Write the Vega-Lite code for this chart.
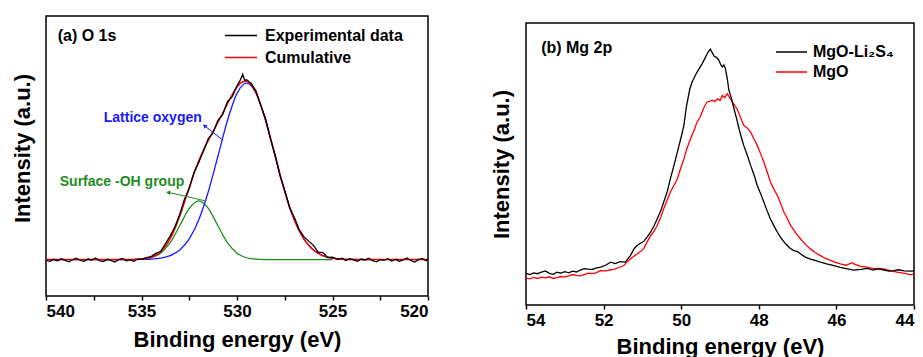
{
  "$schema": "https://vega.github.io/schema/vega-lite/v6.json",
  "background": "white",
  "padding": {"left": 10, "top": 15, "right": 0, "bottom": 0},
  "config": {
    "font": "Liberation Sans",
    "view": {"stroke": "black", "strokeWidth": 1.5},
    "axis": {"grid": false, "domain": false, "labelFont": "Liberation Sans", "labelFontWeight": "bold", "labelFontSize": 17, "labelColor": "black", "titleFont": "Liberation Sans", "titleFontWeight": "bold", "titleFontSize": 22, "titleColor": "black", "tickColor": "black", "tickWidth": 1.5, "tickSize": 4, "labelPadding": 3, "titlePadding": 9},
    "legend": {"labelFont": "Liberation Sans", "labelFontWeight": "bold", "labelFontSize": 16, "labelColor": "black", "symbolType": "stroke", "symbolSize": 1024, "symbolStrokeWidth": 1.5, "padding": 0, "title": null}
  },
  "resolve": {"scale": {"color": "independent", "stroke": "independent"}, "legend": {"color": "independent", "stroke": "independent"}},
  "datasets": {
    "a": [
      {"E": 540, "I": 0.13, "s": "Cumulative"}, {"E": 536, "I": 0.13, "s": "Cumulative"}, {"E": 535.5, "I": 0.1303, "s": "Cumulative"}, {"E": 535, "I": 0.1319, "s": "Cumulative"}, {"E": 534.75, "I": 0.1341, "s": "Cumulative"}, {"E": 534.5, "I": 0.1382, "s": "Cumulative"}, {"E": 534.25, "I": 0.1456, "s": "Cumulative"}, {"E": 534, "I": 0.158, "s": "Cumulative"}, {"E": 533.75, "I": 0.1771, "s": "Cumulative"}, {"E": 533.5, "I": 0.2044, "s": "Cumulative"}, {"E": 533.25, "I": 0.2406, "s": "Cumulative"}, {"E": 533, "I": 0.2849, "s": "Cumulative"}, {"E": 532.75, "I": 0.3349, "s": "Cumulative"}, {"E": 532.5, "I": 0.3869, "s": "Cumulative"}, {"E": 532.25, "I": 0.4372, "s": "Cumulative"}, {"E": 532, "I": 0.4825, "s": "Cumulative"}, {"E": 531.75, "I": 0.5219, "s": "Cumulative"}, {"E": 531.5, "I": 0.5562, "s": "Cumulative"}, {"E": 531.25, "I": 0.5879, "s": "Cumulative"}, {"E": 531, "I": 0.6197, "s": "Cumulative"}, {"E": 530.75, "I": 0.6529, "s": "Cumulative"}, {"E": 530.5, "I": 0.6871, "s": "Cumulative"}, {"E": 530.25, "I": 0.7196, "s": "Cumulative"}, {"E": 530, "I": 0.7466, "s": "Cumulative"}, {"E": 529.75, "I": 0.7634, "s": "Cumulative"}, {"E": 529.5, "I": 0.7666, "s": "Cumulative"}, {"E": 529.25, "I": 0.7539, "s": "Cumulative"}, {"E": 529, "I": 0.7251, "s": "Cumulative"}, {"E": 528.75, "I": 0.6817, "s": "Cumulative"}, {"E": 528.5, "I": 0.6269, "s": "Cumulative"}, {"E": 528.25, "I": 0.5645, "s": "Cumulative"}, {"E": 528, "I": 0.499, "s": "Cumulative"}, {"E": 527.75, "I": 0.4341, "s": "Cumulative"}, {"E": 527.5, "I": 0.3734, "s": "Cumulative"}, {"E": 527.25, "I": 0.319, "s": "Cumulative"}, {"E": 527, "I": 0.2725, "s": "Cumulative"}, {"E": 526.75, "I": 0.2343, "s": "Cumulative"}, {"E": 526.5, "I": 0.2041, "s": "Cumulative"}, {"E": 526.25, "I": 0.1811, "s": "Cumulative"}, {"E": 526, "I": 0.1642, "s": "Cumulative"}, {"E": 525.75, "I": 0.1522, "s": "Cumulative"}, {"E": 525.5, "I": 0.144, "s": "Cumulative"}, {"E": 525.25, "I": 0.1386, "s": "Cumulative"}, {"E": 525, "I": 0.1351, "s": "Cumulative"}, {"E": 524.75, "I": 0.1329, "s": "Cumulative"}, {"E": 524.5, "I": 0.1316, "s": "Cumulative"}, {"E": 524, "I": 0.1305, "s": "Cumulative"}, {"E": 523.5, "I": 0.1301, "s": "Cumulative"}, {"E": 520, "I": 0.13, "s": "Cumulative"},

      {"E": 540, "I": 0.13, "s": "Lattice oxygen"}, {"E": 536, "I": 0.13, "s": "Lattice oxygen"}, {"E": 535.5, "I": 0.1301, "s": "Lattice oxygen"}, {"E": 535, "I": 0.1305, "s": "Lattice oxygen"}, {"E": 534.5, "I": 0.1316, "s": "Lattice oxygen"}, {"E": 534, "I": 0.1351, "s": "Lattice oxygen"}, {"E": 533.5, "I": 0.144, "s": "Lattice oxygen"}, {"E": 533, "I": 0.1642, "s": "Lattice oxygen"}, {"E": 532.5, "I": 0.2041, "s": "Lattice oxygen"}, {"E": 532, "I": 0.2725, "s": "Lattice oxygen"}, {"E": 531.5, "I": 0.3734, "s": "Lattice oxygen"}, {"E": 531, "I": 0.499, "s": "Lattice oxygen"}, {"E": 530.5, "I": 0.6267, "s": "Lattice oxygen"}, {"E": 530, "I": 0.7237, "s": "Lattice oxygen"}, {"E": 529.5, "I": 0.76, "s": "Lattice oxygen"}, {"E": 529, "I": 0.7237, "s": "Lattice oxygen"}, {"E": 528.5, "I": 0.6267, "s": "Lattice oxygen"}, {"E": 528, "I": 0.499, "s": "Lattice oxygen"}, {"E": 527.5, "I": 0.3734, "s": "Lattice oxygen"}, {"E": 527, "I": 0.2725, "s": "Lattice oxygen"}, {"E": 526.5, "I": 0.2041, "s": "Lattice oxygen"}, {"E": 526, "I": 0.1642, "s": "Lattice oxygen"}, {"E": 525.5, "I": 0.144, "s": "Lattice oxygen"}, {"E": 525, "I": 0.1351, "s": "Lattice oxygen"}, {"E": 524.5, "I": 0.1316, "s": "Lattice oxygen"}, {"E": 524, "I": 0.1305, "s": "Lattice oxygen"}, {"E": 523.5, "I": 0.1301, "s": "Lattice oxygen"}, {"E": 523, "I": 0.13, "s": "Lattice oxygen"},

      {"E": 535.5, "I": 0.1302, "s": "Surface -OH group"}, {"E": 535, "I": 0.1314, "s": "Surface -OH group"}, {"E": 534.5, "I": 0.1366, "s": "Surface -OH group"}, {"E": 534, "I": 0.1529, "s": "Surface -OH group"}, {"E": 533.5, "I": 0.1904, "s": "Surface -OH group"}, {"E": 533, "I": 0.2507, "s": "Surface -OH group"}, {"E": 532.5, "I": 0.3128, "s": "Surface -OH group"}, {"E": 532, "I": 0.34, "s": "Surface -OH group"}, {"E": 531.5, "I": 0.3128, "s": "Surface -OH group"}, {"E": 531, "I": 0.2507, "s": "Surface -OH group"}, {"E": 530.5, "I": 0.1904, "s": "Surface -OH group"}, {"E": 530, "I": 0.1529, "s": "Surface -OH group"}, {"E": 529.5, "I": 0.1366, "s": "Surface -OH group"}, {"E": 529, "I": 0.1314, "s": "Surface -OH group"}, {"E": 528.5, "I": 0.1302, "s": "Surface -OH group"}, {"E": 528, "I": 0.13, "s": "Surface -OH group"}, {"E": 525, "I": 0.13, "s": "Surface -OH group"},

      {"E": 540.0, "I": 0.128, "s": "Experimental data"}, {"E": 539.8, "I": 0.124, "s": "Experimental data"}, {"E": 539.6, "I": 0.131, "s": "Experimental data"}, {"E": 539.4, "I": 0.126, "s": "Experimental data"}, {"E": 539.2, "I": 0.133, "s": "Experimental data"}, {"E": 539.0, "I": 0.127, "s": "Experimental data"}, {"E": 538.8, "I": 0.122, "s": "Experimental data"}, {"E": 538.6, "I": 0.130, "s": "Experimental data"}, {"E": 538.4, "I": 0.135, "s": "Experimental data"}, {"E": 538.2, "I": 0.127, "s": "Experimental data"}, {"E": 538.0, "I": 0.124, "s": "Experimental data"}, {"E": 537.8, "I": 0.132, "s": "Experimental data"}, {"E": 537.6, "I": 0.128, "s": "Experimental data"}, {"E": 537.4, "I": 0.136, "s": "Experimental data"}, {"E": 537.2, "I": 0.126, "s": "Experimental data"}, {"E": 537.0, "I": 0.123, "s": "Experimental data"}, {"E": 536.8, "I": 0.131, "s": "Experimental data"}, {"E": 536.6, "I": 0.127, "s": "Experimental data"}, {"E": 536.4, "I": 0.121, "s": "Experimental data"}, {"E": 536.2, "I": 0.130, "s": "Experimental data"}, {"E": 536.0, "I": 0.134, "s": "Experimental data"}, {"E": 535.8, "I": 0.126, "s": "Experimental data"}, {"E": 535.6, "I": 0.129, "s": "Experimental data"}, {"E": 535.4, "I": 0.124, "s": "Experimental data"}, {"E": 535.2, "I": 0.132, "s": "Experimental data"}, {"E": 535.0, "I": 0.131, "s": "Experimental data"}, {"E": 534.75, "I": 0.137, "s": "Experimental data"}, {"E": 534.5, "I": 0.141, "s": "Experimental data"}, {"E": 534.25, "I": 0.152, "s": "Experimental data"}, {"E": 534.0, "I": 0.159, "s": "Experimental data"}, {"E": 533.75, "I": 0.186, "s": "Experimental data"}, {"E": 533.5, "I": 0.214, "s": "Experimental data"}, {"E": 533.25, "I": 0.247, "s": "Experimental data"}, {"E": 533.0, "I": 0.291, "s": "Experimental data"}, {"E": 532.75, "I": 0.346, "s": "Experimental data"}, {"E": 532.5, "I": 0.384, "s": "Experimental data"}, {"E": 532.25, "I": 0.442, "s": "Experimental data"}, {"E": 532.0, "I": 0.478, "s": "Experimental data"}, {"E": 531.75, "I": 0.519, "s": "Experimental data"}, {"E": 531.5, "I": 0.562, "s": "Experimental data"}, {"E": 531.25, "I": 0.583, "s": "Experimental data"}, {"E": 531.0, "I": 0.627, "s": "Experimental data"}, {"E": 530.75, "I": 0.648, "s": "Experimental data"}, {"E": 530.5, "I": 0.694, "s": "Experimental data"}, {"E": 530.25, "I": 0.712, "s": "Experimental data"}, {"E": 530.0, "I": 0.751, "s": "Experimental data"}, {"E": 529.85, "I": 0.768, "s": "Experimental data"}, {"E": 529.7, "I": 0.792, "s": "Experimental data"}, {"E": 529.6, "I": 0.770, "s": "Experimental data"}, {"E": 529.5, "I": 0.772, "s": "Experimental data"}, {"E": 529.35, "I": 0.764, "s": "Experimental data"}, {"E": 529.25, "I": 0.759, "s": "Experimental data"}, {"E": 529.0, "I": 0.731, "s": "Experimental data"}, {"E": 528.75, "I": 0.679, "s": "Experimental data"}, {"E": 528.5, "I": 0.632, "s": "Experimental data"}, {"E": 528.25, "I": 0.561, "s": "Experimental data"}, {"E": 528.0, "I": 0.503, "s": "Experimental data"}, {"E": 527.75, "I": 0.430, "s": "Experimental data"}, {"E": 527.5, "I": 0.378, "s": "Experimental data"}, {"E": 527.25, "I": 0.316, "s": "Experimental data"}, {"E": 527.0, "I": 0.281, "s": "Experimental data"}, {"E": 526.75, "I": 0.238, "s": "Experimental data"}, {"E": 526.5, "I": 0.212, "s": "Experimental data"}, {"E": 526.25, "I": 0.196, "s": "Experimental data"}, {"E": 526.0, "I": 0.181, "s": "Experimental data"}, {"E": 525.75, "I": 0.157, "s": "Experimental data"}, {"E": 525.5, "I": 0.155, "s": "Experimental data"}, {"E": 525.25, "I": 0.137, "s": "Experimental data"}, {"E": 525.0, "I": 0.139, "s": "Experimental data"}, {"E": 524.75, "I": 0.131, "s": "Experimental data"}, {"E": 524.5, "I": 0.135, "s": "Experimental data"}, {"E": 524.3, "I": 0.127, "s": "Experimental data"}, {"E": 524.1, "I": 0.133, "s": "Experimental data"}, {"E": 523.9, "I": 0.129, "s": "Experimental data"}, {"E": 523.7, "I": 0.124, "s": "Experimental data"}, {"E": 523.5, "I": 0.132, "s": "Experimental data"}, {"E": 523.3, "I": 0.128, "s": "Experimental data"}, {"E": 523.1, "I": 0.135, "s": "Experimental data"}, {"E": 522.9, "I": 0.126, "s": "Experimental data"}, {"E": 522.7, "I": 0.122, "s": "Experimental data"}, {"E": 522.5, "I": 0.130, "s": "Experimental data"}, {"E": 522.3, "I": 0.127, "s": "Experimental data"}, {"E": 522.1, "I": 0.133, "s": "Experimental data"}, {"E": 521.9, "I": 0.125, "s": "Experimental data"}, {"E": 521.7, "I": 0.131, "s": "Experimental data"}, {"E": 521.5, "I": 0.124, "s": "Experimental data"}, {"E": 521.3, "I": 0.129, "s": "Experimental data"}, {"E": 521.1, "I": 0.136, "s": "Experimental data"}, {"E": 520.9, "I": 0.127, "s": "Experimental data"}, {"E": 520.7, "I": 0.121, "s": "Experimental data"}, {"E": 520.5, "I": 0.130, "s": "Experimental data"}, {"E": 520.3, "I": 0.134, "s": "Experimental data"}, {"E": 520.1, "I": 0.126, "s": "Experimental data"}, {"E": 520.0, "I": 0.131, "s": "Experimental data"}
    ],
    "aNote": [
      {"E": 534.41, "I": 0.621, "t": "Lattice oxygen", "c": "#1a1aff"},
      {"E": 536.02, "I": 0.393, "t": "Surface -OH group", "c": "#1f8c1f"}
    ],
    "aLabel": [{"E": 539.39, "I": 0.911, "t": "(a) O 1s"}],
    "aArrow": [
      {"E": 530.72, "I": 0.556, "E2": 531.7, "I2": 0.608, "c": "#1a1aff", "ang": 309},
      {"E": 531.6, "I": 0.339, "E2": 533.6, "I2": 0.37, "c": "#1f8c1f", "ang": 283}
    ],
    "b": [
      {"E": 54.0, "I": 0.112, "s": "MgO-Li₂S₄"}, {"E": 53.9, "I": 0.108, "s": "MgO-Li₂S₄"}, {"E": 53.8, "I": 0.114, "s": "MgO-Li₂S₄"}, {"E": 53.7, "I": 0.111, "s": "MgO-Li₂S₄"}, {"E": 53.6, "I": 0.117, "s": "MgO-Li₂S₄"}, {"E": 53.5, "I": 0.121, "s": "MgO-Li₂S₄"}, {"E": 53.4, "I": 0.112, "s": "MgO-Li₂S₄"}, {"E": 53.3, "I": 0.109, "s": "MgO-Li₂S₄"}, {"E": 53.2, "I": 0.116, "s": "MgO-Li₂S₄"}, {"E": 53.1, "I": 0.113, "s": "MgO-Li₂S₄"}, {"E": 53.0, "I": 0.118, "s": "MgO-Li₂S₄"}, {"E": 52.9, "I": 0.114, "s": "MgO-Li₂S₄"}, {"E": 52.8, "I": 0.12, "s": "MgO-Li₂S₄"}, {"E": 52.7, "I": 0.117, "s": "MgO-Li₂S₄"}, {"E": 52.6, "I": 0.124, "s": "MgO-Li₂S₄"}, {"E": 52.5, "I": 0.129, "s": "MgO-Li₂S₄"}, {"E": 52.4, "I": 0.127, "s": "MgO-Li₂S₄"}, {"E": 52.3, "I": 0.126, "s": "MgO-Li₂S₄"}, {"E": 52.2, "I": 0.131, "s": "MgO-Li₂S₄"}, {"E": 52.08, "I": 0.134, "s": "MgO-Li₂S₄"}, {"E": 51.95, "I": 0.141, "s": "MgO-Li₂S₄"}, {"E": 51.82, "I": 0.152, "s": "MgO-Li₂S₄"}, {"E": 51.7, "I": 0.147, "s": "MgO-Li₂S₄"}, {"E": 51.57, "I": 0.154, "s": "MgO-Li₂S₄"}, {"E": 51.44, "I": 0.152, "s": "MgO-Li₂S₄"}, {"E": 51.31, "I": 0.175, "s": "MgO-Li₂S₄"}, {"E": 51.22, "I": 0.198, "s": "MgO-Li₂S₄"}, {"E": 51.14, "I": 0.211, "s": "MgO-Li₂S₄"}, {"E": 51.05, "I": 0.219, "s": "MgO-Li₂S₄"}, {"E": 50.97, "I": 0.225, "s": "MgO-Li₂S₄"}, {"E": 50.88, "I": 0.241, "s": "MgO-Li₂S₄"}, {"E": 50.79, "I": 0.258, "s": "MgO-Li₂S₄"}, {"E": 50.7, "I": 0.281, "s": "MgO-Li₂S₄"}, {"E": 50.62, "I": 0.305, "s": "MgO-Li₂S₄"}, {"E": 50.53, "I": 0.333, "s": "MgO-Li₂S₄"}, {"E": 50.45, "I": 0.365, "s": "MgO-Li₂S₄"}, {"E": 50.36, "I": 0.402, "s": "MgO-Li₂S₄"}, {"E": 50.28, "I": 0.447, "s": "MgO-Li₂S₄"}, {"E": 50.19, "I": 0.493, "s": "MgO-Li₂S₄"}, {"E": 50.1, "I": 0.542, "s": "MgO-Li₂S₄"}, {"E": 50.02, "I": 0.585, "s": "MgO-Li₂S₄"}, {"E": 49.93, "I": 0.637, "s": "MgO-Li₂S₄"}, {"E": 49.87, "I": 0.7, "s": "MgO-Li₂S₄"}, {"E": 49.78, "I": 0.765, "s": "MgO-Li₂S₄"}, {"E": 49.72, "I": 0.791, "s": "MgO-Li₂S₄"}, {"E": 49.65, "I": 0.81, "s": "MgO-Li₂S₄"}, {"E": 49.59, "I": 0.826, "s": "MgO-Li₂S₄"}, {"E": 49.52, "I": 0.842, "s": "MgO-Li₂S₄"}, {"E": 49.46, "I": 0.856, "s": "MgO-Li₂S₄"}, {"E": 49.4, "I": 0.872, "s": "MgO-Li₂S₄"}, {"E": 49.33, "I": 0.891, "s": "MgO-Li₂S₄"}, {"E": 49.28, "I": 0.902, "s": "MgO-Li₂S₄"}, {"E": 49.25, "I": 0.907, "s": "MgO-Li₂S₄"}, {"E": 49.2, "I": 0.895, "s": "MgO-Li₂S₄"}, {"E": 49.15, "I": 0.882, "s": "MgO-Li₂S₄"}, {"E": 49.1, "I": 0.879, "s": "MgO-Li₂S₄"}, {"E": 49.03, "I": 0.868, "s": "MgO-Li₂S₄"}, {"E": 48.98, "I": 0.852, "s": "MgO-Li₂S₄"}, {"E": 48.94, "I": 0.844, "s": "MgO-Li₂S₄"}, {"E": 48.9, "I": 0.851, "s": "MgO-Li₂S₄"}, {"E": 48.86, "I": 0.838, "s": "MgO-Li₂S₄"}, {"E": 48.81, "I": 0.8, "s": "MgO-Li₂S₄"}, {"E": 48.77, "I": 0.761, "s": "MgO-Li₂S₄"}, {"E": 48.7, "I": 0.73, "s": "MgO-Li₂S₄"}, {"E": 48.64, "I": 0.696, "s": "MgO-Li₂S₄"}, {"E": 48.57, "I": 0.66, "s": "MgO-Li₂S₄"}, {"E": 48.51, "I": 0.625, "s": "MgO-Li₂S₄"}, {"E": 48.45, "I": 0.595, "s": "MgO-Li₂S₄"}, {"E": 48.39, "I": 0.566, "s": "MgO-Li₂S₄"}, {"E": 48.3, "I": 0.533, "s": "MgO-Li₂S₄"}, {"E": 48.21, "I": 0.495, "s": "MgO-Li₂S₄"}, {"E": 48.12, "I": 0.46, "s": "MgO-Li₂S₄"}, {"E": 48.04, "I": 0.424, "s": "MgO-Li₂S₄"}, {"E": 47.95, "I": 0.394, "s": "MgO-Li₂S₄"}, {"E": 47.87, "I": 0.365, "s": "MgO-Li₂S₄"}, {"E": 47.78, "I": 0.332, "s": "MgO-Li₂S₄"}, {"E": 47.7, "I": 0.305, "s": "MgO-Li₂S₄"}, {"E": 47.6, "I": 0.278, "s": "MgO-Li₂S₄"}, {"E": 47.52, "I": 0.258, "s": "MgO-Li₂S₄"}, {"E": 47.42, "I": 0.236, "s": "MgO-Li₂S₄"}, {"E": 47.31, "I": 0.217, "s": "MgO-Li₂S₄"}, {"E": 47.2, "I": 0.202, "s": "MgO-Li₂S₄"}, {"E": 47.1, "I": 0.193, "s": "MgO-Li₂S₄"}, {"E": 47.01, "I": 0.19, "s": "MgO-Li₂S₄"}, {"E": 46.92, "I": 0.181, "s": "MgO-Li₂S₄"}, {"E": 46.8, "I": 0.17, "s": "MgO-Li₂S₄"}, {"E": 46.67, "I": 0.163, "s": "MgO-Li₂S₄"}, {"E": 46.55, "I": 0.158, "s": "MgO-Li₂S₄"}, {"E": 46.41, "I": 0.152, "s": "MgO-Li₂S₄"}, {"E": 46.25, "I": 0.146, "s": "MgO-Li₂S₄"}, {"E": 46.06, "I": 0.14, "s": "MgO-Li₂S₄"}, {"E": 45.9, "I": 0.133, "s": "MgO-Li₂S₄"}, {"E": 45.72, "I": 0.128, "s": "MgO-Li₂S₄"}, {"E": 45.55, "I": 0.124, "s": "MgO-Li₂S₄"}, {"E": 45.37, "I": 0.126, "s": "MgO-Li₂S₄"}, {"E": 45.2, "I": 0.13, "s": "MgO-Li₂S₄"}, {"E": 45.05, "I": 0.124, "s": "MgO-Li₂S₄"}, {"E": 44.94, "I": 0.128, "s": "MgO-Li₂S₄"}, {"E": 44.8, "I": 0.125, "s": "MgO-Li₂S₄"}, {"E": 44.65, "I": 0.12, "s": "MgO-Li₂S₄"}, {"E": 44.52, "I": 0.122, "s": "MgO-Li₂S₄"}, {"E": 44.4, "I": 0.125, "s": "MgO-Li₂S₄"}, {"E": 44.25, "I": 0.121, "s": "MgO-Li₂S₄"}, {"E": 44.1, "I": 0.12, "s": "MgO-Li₂S₄"}, {"E": 44.0, "I": 0.121, "s": "MgO-Li₂S₄"},

      {"E": 54.0, "I": 0.095, "s": "MgO"}, {"E": 53.9, "I": 0.093, "s": "MgO"}, {"E": 53.8, "I": 0.098, "s": "MgO"}, {"E": 53.7, "I": 0.094, "s": "MgO"}, {"E": 53.6, "I": 0.099, "s": "MgO"}, {"E": 53.5, "I": 0.096, "s": "MgO"}, {"E": 53.4, "I": 0.1, "s": "MgO"}, {"E": 53.3, "I": 0.094, "s": "MgO"}, {"E": 53.2, "I": 0.097, "s": "MgO"}, {"E": 53.1, "I": 0.101, "s": "MgO"}, {"E": 53.0, "I": 0.099, "s": "MgO"}, {"E": 52.9, "I": 0.103, "s": "MgO"}, {"E": 52.8, "I": 0.108, "s": "MgO"}, {"E": 52.7, "I": 0.105, "s": "MgO"}, {"E": 52.6, "I": 0.103, "s": "MgO"}, {"E": 52.5, "I": 0.108, "s": "MgO"}, {"E": 52.4, "I": 0.113, "s": "MgO"}, {"E": 52.3, "I": 0.111, "s": "MgO"}, {"E": 52.2, "I": 0.114, "s": "MgO"}, {"E": 52.08, "I": 0.122, "s": "MgO"}, {"E": 51.95, "I": 0.121, "s": "MgO"}, {"E": 51.82, "I": 0.125, "s": "MgO"}, {"E": 51.74, "I": 0.126, "s": "MgO"}, {"E": 51.6, "I": 0.133, "s": "MgO"}, {"E": 51.48, "I": 0.14, "s": "MgO"}, {"E": 51.4, "I": 0.152, "s": "MgO"}, {"E": 51.31, "I": 0.163, "s": "MgO"}, {"E": 51.22, "I": 0.173, "s": "MgO"}, {"E": 51.14, "I": 0.181, "s": "MgO"}, {"E": 51.05, "I": 0.19, "s": "MgO"}, {"E": 50.97, "I": 0.199, "s": "MgO"}, {"E": 50.88, "I": 0.223, "s": "MgO"}, {"E": 50.79, "I": 0.246, "s": "MgO"}, {"E": 50.7, "I": 0.262, "s": "MgO"}, {"E": 50.62, "I": 0.282, "s": "MgO"}, {"E": 50.53, "I": 0.31, "s": "MgO"}, {"E": 50.45, "I": 0.341, "s": "MgO"}, {"E": 50.36, "I": 0.372, "s": "MgO"}, {"E": 50.28, "I": 0.4, "s": "MgO"}, {"E": 50.19, "I": 0.424, "s": "MgO"}, {"E": 50.1, "I": 0.447, "s": "MgO"}, {"E": 50.02, "I": 0.482, "s": "MgO"}, {"E": 49.93, "I": 0.518, "s": "MgO"}, {"E": 49.85, "I": 0.556, "s": "MgO"}, {"E": 49.76, "I": 0.589, "s": "MgO"}, {"E": 49.67, "I": 0.62, "s": "MgO"}, {"E": 49.59, "I": 0.649, "s": "MgO"}, {"E": 49.52, "I": 0.664, "s": "MgO"}, {"E": 49.46, "I": 0.684, "s": "MgO"}, {"E": 49.4, "I": 0.705, "s": "MgO"}, {"E": 49.33, "I": 0.72, "s": "MgO"}, {"E": 49.27, "I": 0.722, "s": "MgO"}, {"E": 49.2, "I": 0.726, "s": "MgO"}, {"E": 49.13, "I": 0.721, "s": "MgO"}, {"E": 49.07, "I": 0.731, "s": "MgO"}, {"E": 49.0, "I": 0.725, "s": "MgO"}, {"E": 48.94, "I": 0.743, "s": "MgO"}, {"E": 48.88, "I": 0.735, "s": "MgO"}, {"E": 48.81, "I": 0.749, "s": "MgO"}, {"E": 48.75, "I": 0.735, "s": "MgO"}, {"E": 48.68, "I": 0.72, "s": "MgO"}, {"E": 48.62, "I": 0.706, "s": "MgO"}, {"E": 48.56, "I": 0.696, "s": "MgO"}, {"E": 48.48, "I": 0.668, "s": "MgO"}, {"E": 48.39, "I": 0.637, "s": "MgO"}, {"E": 48.3, "I": 0.628, "s": "MgO"}, {"E": 48.21, "I": 0.613, "s": "MgO"}, {"E": 48.12, "I": 0.588, "s": "MgO"}, {"E": 48.04, "I": 0.566, "s": "MgO"}, {"E": 47.95, "I": 0.535, "s": "MgO"}, {"E": 47.87, "I": 0.507, "s": "MgO"}, {"E": 47.78, "I": 0.47, "s": "MgO"}, {"E": 47.7, "I": 0.436, "s": "MgO"}, {"E": 47.61, "I": 0.41, "s": "MgO"}, {"E": 47.52, "I": 0.388, "s": "MgO"}, {"E": 47.43, "I": 0.357, "s": "MgO"}, {"E": 47.35, "I": 0.329, "s": "MgO"}, {"E": 47.26, "I": 0.305, "s": "MgO"}, {"E": 47.18, "I": 0.282, "s": "MgO"}, {"E": 47.05, "I": 0.256, "s": "MgO"}, {"E": 46.92, "I": 0.234, "s": "MgO"}, {"E": 46.8, "I": 0.215, "s": "MgO"}, {"E": 46.67, "I": 0.199, "s": "MgO"}, {"E": 46.55, "I": 0.186, "s": "MgO"}, {"E": 46.41, "I": 0.175, "s": "MgO"}, {"E": 46.28, "I": 0.165, "s": "MgO"}, {"E": 46.15, "I": 0.158, "s": "MgO"}, {"E": 46.02, "I": 0.151, "s": "MgO"}, {"E": 45.9, "I": 0.146, "s": "MgO"}, {"E": 45.75, "I": 0.141, "s": "MgO"}, {"E": 45.6, "I": 0.15, "s": "MgO"}, {"E": 45.55, "I": 0.146, "s": "MgO"}, {"E": 45.4, "I": 0.138, "s": "MgO"}, {"E": 45.21, "I": 0.134, "s": "MgO"}, {"E": 45.05, "I": 0.129, "s": "MgO"}, {"E": 44.9, "I": 0.13, "s": "MgO"}, {"E": 44.78, "I": 0.128, "s": "MgO"}, {"E": 44.6, "I": 0.121, "s": "MgO"}, {"E": 44.4, "I": 0.116, "s": "MgO"}, {"E": 44.25, "I": 0.112, "s": "MgO"}, {"E": 44.1, "I": 0.108, "s": "MgO"}, {"E": 44.0, "I": 0.109, "s": "MgO"}
    ],
    "bText": [{"E": 53.61, "I": 0.894, "t": "(b) Mg 2p"}]
  },
  "spacing": 59,
  "hconcat": [
    {
      "width": 382,
      "height": 280,
      "layer": [
        {
          "data": {"name": "a"},
          "transform": [{"filter": "datum.s === 'Surface -OH group'"}],
          "mark": {"type": "line", "interpolate": "monotone", "strokeWidth": 1.3, "clip": true},
          "encoding": {
            "x": {"field": "E", "type": "quantitative", "scale": {"domain": [520, 540], "reverse": true, "nice": false, "zero": false},
              "axis": {"title": "Binding energy (eV)", "values": [540, 537.5, 535, 532.5, 530, 527.5, 525, 522.5, 520], "labelExpr": "datum.value % 5 === 0 ? datum.label : ''", "titlePadding": 10}},
            "y": {"field": "I", "type": "quantitative", "scale": {"domain": [0, 1], "nice": false},
              "axis": {"title": "Intensity (a.u.)", "labels": false, "ticks": false, "titlePadding": 12, "titleY": 132}},
            "color": {"field": "s", "type": "nominal",
              "scale": {"domain": ["Experimental data", "Lattice oxygen", "Surface -OH group"], "range": ["#000000", "#1a1aff", "#1f8c1f"]},
              "legend": {"orient": "none", "legendX": 178, "legendY": 2.5, "values": ["Experimental data"], "labelOffset": 7}}
          }
        },
        {
          "data": {"name": "a"},
          "transform": [{"filter": "datum.s === 'Lattice oxygen'"}],
          "mark": {"type": "line", "interpolate": "monotone", "strokeWidth": 1.3, "clip": true},
          "encoding": {
            "x": {"field": "E", "type": "quantitative"},
            "y": {"field": "I", "type": "quantitative"},
            "color": {"field": "s", "type": "nominal"}
          }
        },
        {
          "data": {"name": "a"},
          "transform": [{"filter": "datum.s === 'Cumulative'"}],
          "mark": {"type": "line", "interpolate": "monotone", "strokeWidth": 1.5, "clip": true},
          "encoding": {
            "x": {"field": "E", "type": "quantitative"},
            "y": {"field": "I", "type": "quantitative"},
            "stroke": {"field": "s", "type": "nominal",
              "scale": {"domain": ["Cumulative"], "range": ["#ff0000"]},
              "legend": {"orient": "none", "legendX": 178, "legendY": 24.5, "labelOffset": 7}}
          }
        },
        {
          "data": {"name": "a"},
          "transform": [{"filter": "datum.s === 'Experimental data'"}],
          "mark": {"type": "line", "strokeWidth": 1.3, "clip": true},
          "encoding": {
            "x": {"field": "E", "type": "quantitative"},
            "y": {"field": "I", "type": "quantitative"},
            "color": {"field": "s", "type": "nominal"}
          }
        },
        {
          "data": {"name": "aArrow"},
          "mark": {"type": "rule", "strokeWidth": 1},
          "encoding": {
            "x": {"field": "E", "type": "quantitative"},
            "y": {"field": "I", "type": "quantitative"},
            "x2": {"field": "E2"},
            "y2": {"field": "I2"},
            "stroke": {"field": "c", "type": "nominal", "scale": null, "legend": null}
          }
        },
        {
          "data": {"name": "aArrow"},
          "mark": {"type": "point", "shape": "triangle-up", "filled": true, "size": 22, "opacity": 1},
          "encoding": {
            "x": {"field": "E2", "type": "quantitative"},
            "y": {"field": "I2", "type": "quantitative"},
            "fill": {"field": "c", "type": "nominal", "scale": null},
            "angle": {"field": "ang", "type": "quantitative", "scale": null}
          }
        },
        {
          "data": {"name": "aNote"},
          "mark": {"type": "text", "font": "Liberation Sans", "fontWeight": "bold", "fontSize": 14, "baseline": "alphabetic", "align": "center"},
          "encoding": {
            "x": {"field": "E", "type": "quantitative"},
            "y": {"field": "I", "type": "quantitative"},
            "text": {"field": "t"},
            "fill": {"field": "c", "type": "nominal", "scale": null}
          }
        },
        {
          "data": {"name": "aLabel"},
          "mark": {"type": "text", "font": "Liberation Sans", "fontWeight": "bold", "fontSize": 16, "baseline": "alphabetic", "align": "left", "color": "black"},
          "encoding": {
            "x": {"field": "E", "type": "quantitative"},
            "y": {"field": "I", "type": "quantitative"},
            "text": {"field": "t"}
          }
        }
      ]
    },
    {
      "spacing": 5,
      "vconcat": [
        {
          "width": 388,
          "height": 1,
          "view": {"stroke": null},
          "data": {"values": [{"E": 50}]},
          "mark": {"type": "point", "opacity": 0, "size": 0, "strokeWidth": 0},
          "encoding": {}
        },
        {
          "width": 388,
          "height": 282,
          "layer": [
            {
              "data": {"name": "b"},
              "transform": [{"filter": "datum.s === 'MgO'"}],
              "mark": {"type": "line", "strokeWidth": 1.3, "clip": true},
              "encoding": {
                "x": {"field": "E", "type": "quantitative", "scale": {"domain": [44, 54], "reverse": true, "nice": false, "zero": false},
                  "axis": {"title": "Binding energy (eV)", "values": [54, 53, 52, 51, 50, 49, 48, 47, 46, 45, 44], "labelExpr": "datum.value % 2 === 0 ? datum.label : ''", "titlePadding": 8}},
                "y": {"field": "I", "type": "quantitative", "scale": {"domain": [0, 1], "nice": false},
                  "axis": {"title": "Intensity (a.u.)", "labels": false, "ticks": false, "titlePadding": 13}},
                "stroke": {"field": "s", "type": "nominal",
                  "scale": {"domain": ["MgO"], "range": ["#ff0000"]},
                  "legend": {"orient": "none", "legendX": 249, "legendY": 39.5, "labelOffset": 5, "symbolSize": 961}}
              }
            },
            {
              "data": {"name": "b"},
              "transform": [{"filter": "datum.s === 'MgO-Li₂S₄'"}],
              "mark": {"type": "line", "strokeWidth": 1.3, "clip": true},
              "encoding": {
                "x": {"field": "E", "type": "quantitative"},
                "y": {"field": "I", "type": "quantitative"},
                "color": {"field": "s", "type": "nominal",
                  "scale": {"domain": ["MgO-Li₂S₄"], "range": ["#000000"]},
                  "legend": {"orient": "none", "legendX": 249, "legendY": 19.5, "labelOffset": 5, "symbolSize": 961}}
              }
            },
            {
              "data": {"name": "bText"},
              "mark": {"type": "text", "font": "Liberation Sans", "fontWeight": "bold", "fontSize": 16, "baseline": "alphabetic", "align": "left", "color": "black"},
              "encoding": {
                "x": {"field": "E", "type": "quantitative"},
                "y": {"field": "I", "type": "quantitative"},
                "text": {"field": "t"}
              }
            }
          ]
        }
      ]
    }
  ]
}
